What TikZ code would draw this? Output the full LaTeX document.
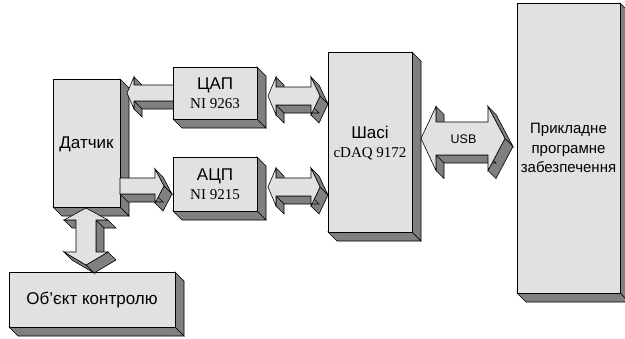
\documentclass[tikz,border=0pt]{standalone}
\usepackage{fontspec}
\setmainfont{Liberation Sans}
\newfontfamily\serifA{Liberation Serif}
\definecolor{frontc}{RGB}{225,225,225}
\definecolor{sidec}{RGB}{128,128,128}
\tikzset{
  front/.style={fill=frontc, draw=black, line width=0.6pt, line join=miter},
  side/.style={fill=sidec, draw=black, line width=0.6pt, line join=miter},
  lbl/.style={inner sep=0pt, align=center, font=\fontsize{17}{19}\selectfont},
  sublbl/.style={inner sep=0pt, align=center, font=\fontsize{15}{19.5}\selectfont}
}
% #1 extrusion, #2 x0, #3 y0, #4 remaining vertices (clockwise on screen), ending with x0/y0
\newcommand\prism[4]{%
  \foreach \x/\y [remember=\x as \lx (initially #2), remember=\y as \ly (initially #3)] in {#4} {%
    \pgfmathtruncatemacro\vis{((\y-\ly)-(\x-\lx))>0.01}%
    \ifnum\vis=1 \filldraw[side] (\lx,\ly) -- (\x,\y) -- (\x+#1,\y+#1) -- (\lx+#1,\ly+#1) -- cycle;\fi
  }%
  \filldraw[front] (#2,#3) \foreach \x/\y in {#4}{ -- (\x,\y)} -- cycle;
}
\begin{document}
\begin{tikzpicture}[x=1pt,y=-1pt]
\useasboundingbox (0,0) rectangle (625,338);
% Датчик and object boxes
\prism{9}{53}{79}{120/79,120/207,53/207,53/79}
\prism{9}{9}{272}{175/272,175/327,9/327,9/272}
% arrows at the sensor
\prism{8}{127}{93}{134/77,134/85,180/85,180/101,134/101,134/109,127/93}
\prism{8}{120}{178}{155/178,155/169,164/186,155/203,155/194,120/194,120/178}
\prism{8}{86}{208}{108/220,96/220,96/252,108/252,86/265,64/252,76/252,76/220,64/220,86/208}
% converter boxes
\prism{9}{173}{67}{257/67,257/119,173/119,173/67}
\prism{9}{173}{157}{257/157,257/211,173/211,173/157}
% double arrows to the chassis
\prism{8}{268}{96}{276/77,276/87,311/87,311/77,320/96,311/115,311/105,276/105,276/115,268/96}
\prism{8}{268}{187}{276/168,276/178,311/178,311/168,320/187,311/206,311/196,276/196,276/206,268/187}
\prism{8}{421}{138.5}{436/106.5,436/122,488/122,488/106.5,505/138.5,488/170.5,488/155,436/155,436/170.5,421/138.5}
% chassis and software boxes
\prism{9}{328}{52}{412/52,412/232,328/232,328/52}
\prism{9}{517}{3}{620/3,620/293,517/293,517/3}
% texts
\node[lbl] (tSensor) at (86.5,144) {Датчик};
\node[lbl] (tObject) at (92,300) {Об’єкт контролю};
\node[lbl] (tDAC) at (215,93) {ЦАП\\{\serifA\fontsize{15}{19}\selectfont NI 9263}};
\node[lbl] (tADC) at (215,184) {АЦП\\{\serifA\fontsize{15}{19}\selectfont NI 9215}};
\node[lbl] (tChassis) at (370,143) {Шасі\\{\serifA\fontsize{15}{19}\selectfont cDAQ 9172}};
\node[sublbl] (tSoft) at (568.5,148) {Прикладне\\програмне\\забезпечення};
\node[inner sep=0pt, font=\fontsize{12.5}{14}\selectfont] (tUSB) at (463.5,139) {USB};
\end{tikzpicture}
\end{document}
